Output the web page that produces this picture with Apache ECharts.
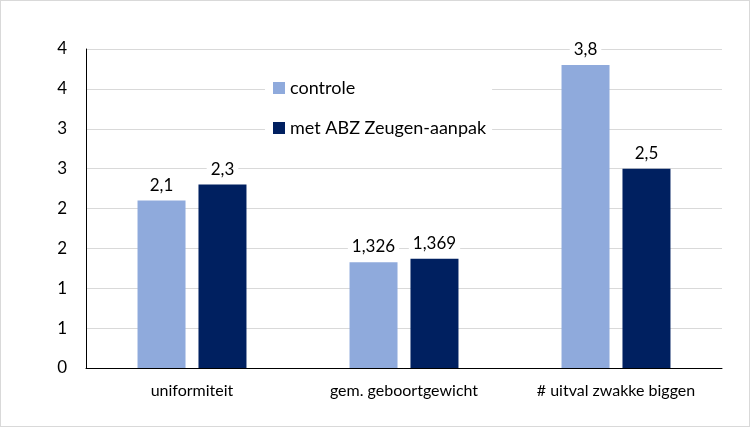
<!DOCTYPE html>
<html>
<head>
<meta charset="utf-8">
<script src="https://cdn.jsdelivr.net/npm/echarts@6/dist/echarts.min.js"></script>
<style>
html,body{margin:0;padding:0;background:#fff;}
#wrap{position:absolute;left:0;top:0;width:748px;height:425px;border:1px solid #d9d9d9;}
#chart{width:748px;height:425px;}
</style>
</head>
<body>
<div id="wrap"><div id="chart"></div></div>
<script>
const categories = ['uniformiteit', 'gem. geboortgewicht', '# uitval zwakke biggen'];
const controle = [2.1, 1.326, 3.8];
const abz = [2.3, 1.369, 2.5];
const seriesNames = ['controle', 'met ABZ Zeugen-aanpak'];
const yMin = 0, yMax = 4, yInterval = 0.5;

const font = 'Lato, "Open Sans", sans-serif';
const chart = echarts.init(document.getElementById('chart'));
const fmt = p => String(p.value).replace('.', ',');
const labelCfg = {
  show: true, position: 'top', distance: 7, formatter: fmt,
  color: '#000', fontSize: 17, fontFamily: font,
  backgroundColor: '#fff', padding: [2, 4, 0, 4]
};
chart.setOption({
  animation: false,
  grid: { left: 85, right: 27, top: 48, bottom: 58 },
  legend: {
    orient: 'vertical', left: 264, top: 72,
    itemWidth: 12, itemHeight: 12, itemGap: 22,
    backgroundColor: '#fff', padding: [6, 6, 6, 8],
    textStyle: { color: '#000', fontSize: 18, fontFamily: font },
    icon: 'rect',
    data: seriesNames
  },
  xAxis: {
    type: 'category', data: categories,
    axisLine: { lineStyle: { color: '#000', width: 1 } },
    axisTick: { show: false },
    axisLabel: { color: '#000', fontSize: 16, fontFamily: font, margin: 15 }
  },
  yAxis: {
    type: 'value', min: yMin, max: yMax, interval: yInterval,
    axisLine: { show: true, lineStyle: { color: '#000', width: 1 } },
    axisTick: { show: false },
    splitLine: { lineStyle: { color: '#d9d9d9', width: 1 } },
    axisLabel: { color: '#000', fontSize: 17, fontFamily: font, margin: 19,
      formatter: v => String(Math.round(v)) }
  },
  series: [
    { name: seriesNames[0], type: 'bar', data: controle, barWidth: 48, barGap: '27%',
      itemStyle: { color: '#8FAADC' }, label: labelCfg },
    { name: seriesNames[1], type: 'bar', data: abz, barWidth: 48,
      itemStyle: { color: '#002060' }, label: labelCfg }
  ]
});
</script>
</body>
</html>
